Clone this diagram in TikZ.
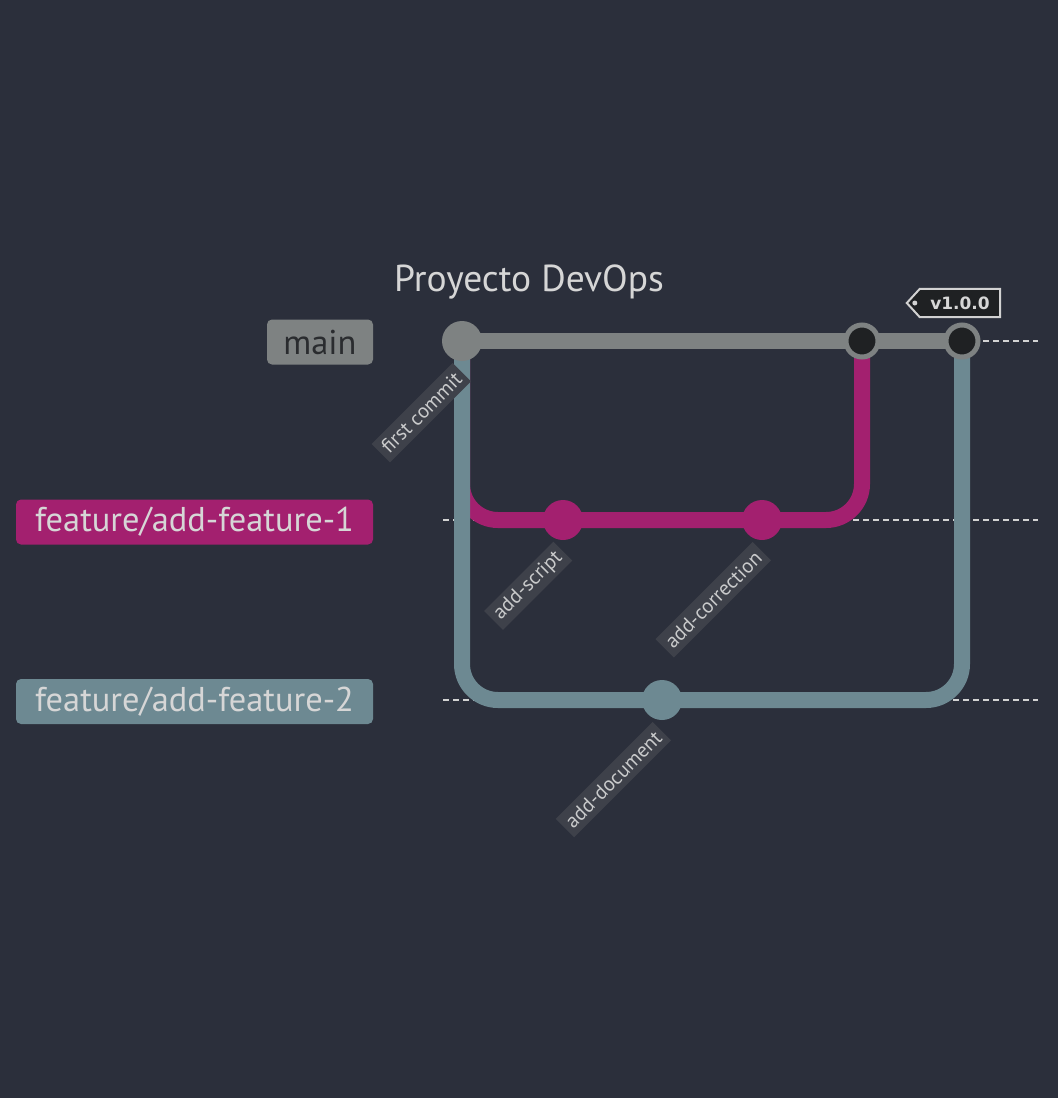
\documentclass[tikz,border=0pt]{standalone}
\usepackage{fontspec}
\setmainfont{PT Sans}
\newfontfamily\tagfont{DejaVu Sans}
\definecolor{bgc}{HTML}{2B2F3B}
\definecolor{mainc}{HTML}{7E8282}
\definecolor{featA}{HTML}{A3206F}
\definecolor{featB}{HTML}{6D8992}
\definecolor{lblbg}{HTML}{3E414A}
\definecolor{lbltxt}{HTML}{C9CACB}
\definecolor{lighttxt}{HTML}{D6D6D6}
\definecolor{darktxt}{HTML}{2A2C2F}
\definecolor{mergefill}{HTML}{1F2123}
\definecolor{laneline}{HTML}{D2D2D2}
\pgfdeclarelayer{canvas}
\pgfdeclarelayer{lanes}
\pgfdeclarelayer{branches}
\pgfsetlayers{canvas,lanes,branches,main}
\begin{document}
\begin{tikzpicture}[x=1pt,y=-1pt,
  branchline/.style={line width=16pt, rounded corners=36pt},
  lane/.style={draw=laneline, line width=2pt, dash pattern=on 6pt off 4pt},
  commit/.style={circle, minimum size=40pt, inner sep=0pt},
  mergecommit/.style={circle, minimum size=32pt, inner sep=0pt, draw=mainc, line width=5pt, fill=mergefill},
  clabel/.style={rotate=45, anchor=east, fill=lblbg, text=lbltxt, font=\fontsize{20.5}{24}\selectfont, inner xsep=5pt, inner ysep=4pt, minimum height=26pt},
  blabel/.style={rounded corners=5pt, font=\fontsize{34.4}{40}\selectfont, minimum height=45pt, inner sep=0pt},
]
\begin{pgfonlayer}{canvas}
\fill[bgc] (0,0) rectangle (1058,1098);
\end{pgfonlayer}
\useasboundingbox (0,0) rectangle (1058,1098);

% title
\node[font=\fontsize{37.5}{44}\selectfont, text=lighttxt, anchor=base] (title) at (529,291) {Proyecto DevOps};

% branch names
\node[blabel, fill=mainc, text=darktxt, minimum width=106pt] (bmain) at (320,342) {main};
\node[blabel, fill=featA, text=lighttxt, minimum width=357pt] (bf1) at (194.5,522) {feature/add-feature-1};
\node[blabel, fill=featB, text=lighttxt, minimum width=357pt] (bf2) at (194.5,701.5) {feature/add-feature-2};

% lane guides
\coordinate (mainL) at (443,341);  \coordinate (mainR) at (1038,341);
\coordinate (f1L) at (443,520);    \coordinate (f1R) at (1038,520);
\coordinate (f2L) at (443,700);    \coordinate (f2R) at (1038,700);
\begin{pgfonlayer}{lanes}
\draw[lane] (mainL) -- (mainR);
\draw[lane] (f1L) -- (f1R);
\draw[lane] (f2L) -- (f2R);
\end{pgfonlayer}

% commits
\node[commit, fill=mainc] (c0) at (462,341) {};
\node[mergecommit] (m1) at (862,341) {};
\node[mergecommit] (m2) at (962,341) {};
\node[commit, fill=featA] (s1) at (563,520) {};
\node[commit, fill=featA] (s2) at (762,520) {};
\node[commit, fill=featB] (d1) at (662,700) {};

% branch lines
\begin{pgfonlayer}{branches}
\draw[branchline, featA] (c0.center) |- (s1.center) -- (s2.center) -| (m1.center);
\draw[branchline, featB] (c0.center) |- (d1.center) -| (m2.center);
\draw[line width=16pt, mainc] (c0.center) -- (m1.center) -- (m2.center);
\end{pgfonlayer}

% commit messages
\node[clabel] (l0) at ([yshift=-31pt]c0.center) {first commit};
\node[clabel] (l1) at ([yshift=-31pt]s1.center) {add-script};
\node[clabel] (l2) at ([yshift=-31pt]s2.center) {add-correction};
\node[clabel] (l3) at ([yshift=-31pt]d1.center) {add-document};

% release tag
\node[font=\tagfont\bfseries\fontsize{17}{20}\selectfont, text=lighttxt, minimum width=80pt, minimum height=28pt, inner sep=0pt] (tag) at (960,303) {v1.0.0};
\begin{pgfonlayer}{branches}
\draw[laneline, fill=mergefill, line width=2pt, line join=miter]
  (tag.north east) -- (tag.north west) -- ([xshift=-13pt]tag.west) -- (tag.south west) -- (tag.south east) -- cycle;
\end{pgfonlayer}
\fill[laneline] ([xshift=-5pt]tag.west) circle (2.5pt);
\end{tikzpicture}
\end{document}
